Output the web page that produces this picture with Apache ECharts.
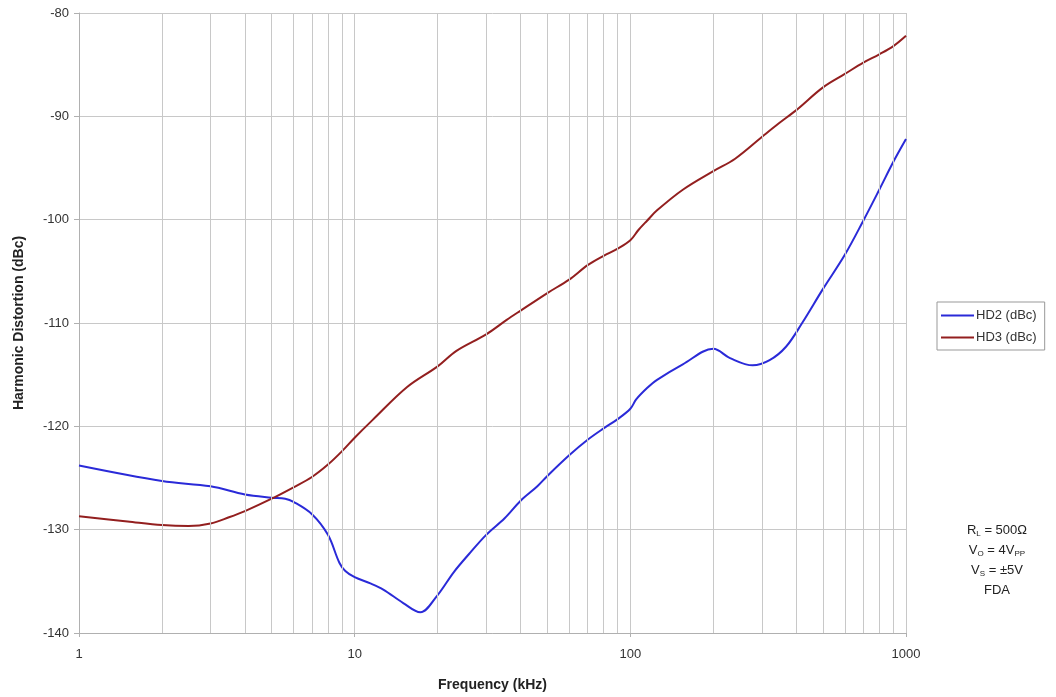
<!DOCTYPE html>
<html>
<head>
<meta charset="utf-8">
<script src="https://cdn.jsdelivr.net/npm/echarts@6/dist/echarts.min.js"></script>
<style>html,body{margin:0;padding:0;background:#fff;}#c{width:1056px;height:697px;}</style>
</head>
<body>
<div id="c"></div>
<script>
// Frequency (kHz) and values (dBc)
const hd2Freq = [1, 2, 3, 4, 5, 5.6, 6, 7, 8, 8.8, 9.25, 10, 11.4, 12.7, 15, 17.3, 19.9, 22.9, 26.3, 30, 35, 40, 46, 50, 60, 70, 80, 90, 100, 105, 115, 125, 155, 200, 230, 278, 320, 367, 420, 500, 600, 700, 800, 900, 1000];
const hd2Vals = [-123.8, -125.3, -125.8, -126.6, -126.9, -127.0, -127.3, -128.5, -130.5, -133.2, -134.0, -134.6, -135.2, -135.8, -137.1, -138.0, -136.4, -134.1, -132.2, -130.5, -128.9, -127.2, -125.8, -124.8, -122.8, -121.3, -120.2, -119.3, -118.3, -117.4, -116.3, -115.5, -114.0, -112.5, -113.4, -114.1, -113.6, -112.3, -110.0, -106.7, -103.4, -100.1, -97.1, -94.4, -92.2];
const hd3Freq = [1, 1.5, 2, 2.5, 3, 3.5, 4, 5, 6, 7, 8, 9, 10, 11.6, 15.5, 20, 23.4, 30, 35.6, 40, 50, 60, 70, 80, 90, 100, 107, 115, 125, 155, 200, 240, 300, 345, 400, 500, 600, 700, 800, 900, 1000];
const hd3Vals = [-128.7, -129.2, -129.55, -129.65, -129.4, -128.8, -128.2, -127.0, -125.9, -124.9, -123.7, -122.4, -121.1, -119.4, -116.2, -114.2, -112.7, -111.1, -109.7, -108.8, -107.1, -105.8, -104.4, -103.5, -102.8, -102.0, -101.0, -100.1, -99.1, -97.1, -95.3, -94.1, -92.0, -90.7, -89.4, -87.2, -85.9, -84.8, -84.0, -83.2, -82.2];
const seriesNames = ['HD2 (dBc)', 'HD3 (dBc)'];
const minorGridFreqs = [2, 3, 4, 5, 6, 7, 8, 9, 20, 30, 40, 50, 60, 70, 80, 90, 200, 300, 400, 500, 600, 700, 800, 900];
const xTickLabels = [1, 10, 100, 1000];
const yMin = -140, yMax = -80, yStep = 10;

const pair = (xs, ys) => xs.map((x, i) => [x, ys[i]]);
const font = 'Liberation Sans, Arial, sans-serif';
const gridColor = '#c8c8c8';

const chart = echarts.init(document.getElementById('c'), null, {renderer: 'canvas'});
chart.setOption({
  backgroundColor: '#fff',
  animation: false,
  textStyle: {fontFamily: font},
  grid: {left: 79, right: 150, top: 13, bottom: 62, containLabel: false},
  xAxis: {
    type: 'log', logBase: 10, min: 1, max: 1000,
    name: 'Frequency (kHz)', nameLocation: 'middle', nameGap: 45,
    nameTextStyle: {fontFamily: font, fontSize: 14, fontWeight: 'bold', color: '#222'},
    axisLine: {show: true, lineStyle: {color: '#b0b0b0', width: 1}},
    axisTick: {show: true, length: 4, lineStyle: {color: '#b0b0b0'}},
    axisLabel: {fontFamily: font, fontSize: 13, color: '#333', margin: 15,
      formatter: v => (xTickLabels.indexOf(Math.round(v)) >= 0 ? String(Math.round(v)) : '')},
    splitLine: {show: true, lineStyle: {color: gridColor, width: 1}}
  },
  yAxis: {
    type: 'value', min: yMin, max: yMax, interval: yStep,
    name: 'Harmonic Distortion (dBc)', nameLocation: 'middle', nameGap: 53, nameRotate: 90,
    nameTextStyle: {fontFamily: font, fontSize: 14, fontWeight: 'bold', color: '#222'},
    axisLine: {show: true, lineStyle: {color: '#b0b0b0', width: 1}},
    axisTick: {show: true, length: 5, lineStyle: {color: '#b0b0b0'}},
    axisLabel: {fontFamily: font, fontSize: 13, color: '#333', margin: 10},
    splitLine: {show: true, lineStyle: {color: gridColor, width: 1}}
  },
  legend: {
    orient: 'vertical', left: 937, top: 302,
    data: seriesNames,
    icon: 'rect', itemWidth: 33, itemHeight: 2, itemGap: 9,
    borderColor: '#999', borderWidth: 1, padding: [7, 8, 6, 4],
    textStyle: {fontFamily: font, fontSize: 13, color: '#333', padding: [0, 0, 0, -3]}
  },
  graphic: [{
    type: 'text', x: 997, y: 520,
    style: {
      text: '{n|R}{s|L}{n| = 500Ω}\n{n|V}{s|O}{n| = 4V}{s|PP}\n{n|V}{s|S}{n| = ±5V}\n{n|FDA}',
      align: 'center', fill: '#222', fontFamily: font, fontSize: 13,
      rich: {
        n: {fontFamily: font, fontSize: 13, lineHeight: 20, fill: '#222'},
        s: {fontFamily: font, fontSize: 8, lineHeight: 20, fill: '#222', padding: [7, 0, 0, 0]}
      }
    }
  }],
  series: [
    {
      name: '_grid', type: 'line', z: 1, silent: true, data: [[1, -200]],
      showSymbol: false, lineStyle: {opacity: 0}, legendHoverLink: false,
      markLine: {
        silent: true, symbol: ['none', 'none'], animation: false,
        label: {show: false},
        lineStyle: {color: gridColor, width: 1, type: 'solid'},
        data: minorGridFreqs.map(f => ({xAxis: f}))
      }
    },
    {
      name: seriesNames[0], type: 'line', z: 3, data: pair(hd2Freq, hd2Vals),
      smooth: 0.35, showSymbol: false, symbol: 'none',
      color: '#2a2ad8', lineStyle: {color: '#2a2ad8', width: 2}
    },
    {
      name: seriesNames[1], type: 'line', z: 3, data: pair(hd3Freq, hd3Vals),
      smooth: 0.35, showSymbol: false, symbol: 'none',
      color: '#931f1f', lineStyle: {color: '#931f1f', width: 2}
    }
  ]
});
</script>
</body>
</html>
